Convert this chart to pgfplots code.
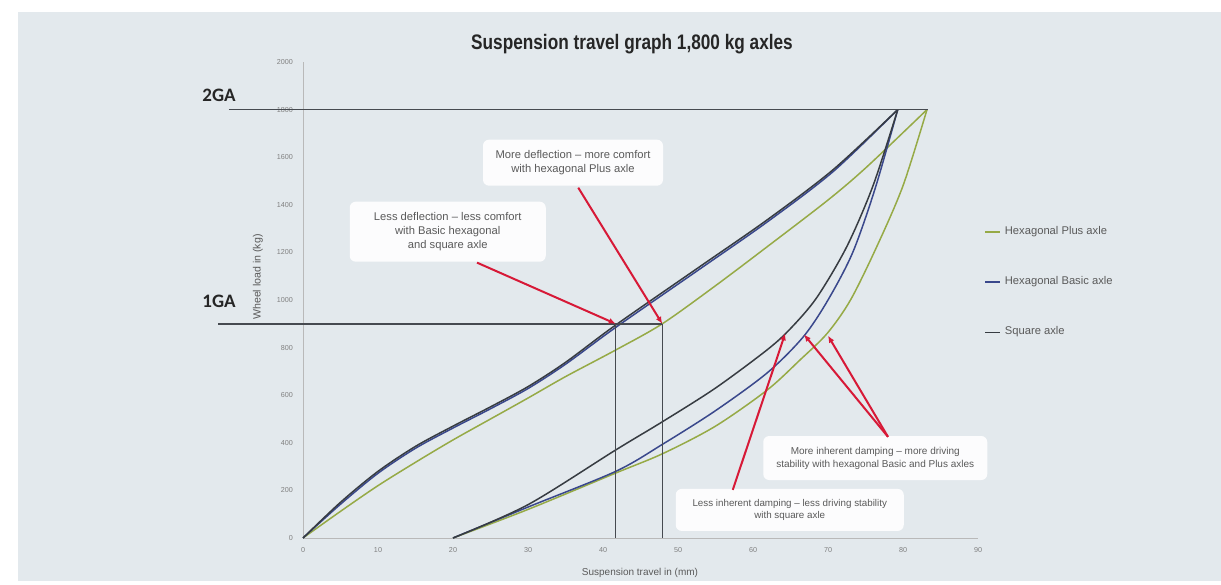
\documentclass[border=0pt]{standalone}
\usepackage{fontspec}
\setmainfont{Liberation Sans}
\newfontfamily\titlefont[FakeStretch=0.82]{Liberation Sans}
\newfontfamily\gafont{Carlito}
\usepackage{pgfplots}
\pgfplotsset{compat=1.18}
\usetikzlibrary{arrows.meta}
\definecolor{bgc}{RGB}{227,233,237}
\definecolor{sqc}{RGB}{55,60,66}
\definecolor{basc}{RGB}{58,72,140}
\definecolor{plc}{RGB}{150,170,70}
\definecolor{refc}{RGB}{70,74,80}
\definecolor{redc}{RGB}{215,25,55}
\definecolor{txtc}{RGB}{90,90,90}
\begin{document}
\begin{tikzpicture}
\fill[white] (0,0) rectangle (610.5pt,290.5pt);
\fill[bgc] (9pt,0) rectangle (610.5pt,284.5pt);
\begin{axis}[at={(151.5pt,21.5pt)}, anchor=south west, scale only axis,
  width=337.5pt, height=238pt,
  xmin=0, xmax=90, ymin=0, ymax=2000, clip=false,
  axis x line*=bottom, axis y line*=left,
  axis line style={-,gray!55,line width=0.4pt},
  xtick={0,10,...,90}, ytick={0,200,...,2000},
  major tick length=0pt,
  tick label style={font=\fontsize{3.6}{4.2}\selectfont, text=gray},
  /pgf/number format/assume math mode=true,
  /pgf/number format/1000 sep={},
  xticklabel style={yshift=-1pt}, yticklabel style={xshift=-1.5pt},
  legend style={at={(1.0,0.672)}, anchor=north west, draw=none, fill=none,
    font=\fontsize{5.6}{6}\selectfont, text=txtc, row sep=15.5pt},
  legend cell align=left,
  legend image code/.code={\draw[#1] (0pt,0pt) -- (7.5pt,0pt);},
  every axis plot/.append style={line width=0.75pt, smooth, tension=0.5}]

% upper (loading) curves
\addplot[plc] coordinates {(0,0) (5,112) (10,220) (15,318) (20,412) (25,500) (30,588) (35,678) (41.7,790) (47.9,900) (55,1060) (61.9,1224) (70,1420) (75.2,1560) (83.2,1800)};
\addlegendentry{Hexagonal Plus axle}
\addplot[basc] coordinates {(0,0) (5,142) (10,272) (15,377) (20,462) (25,543) (30,628) (35,730) (41.7,885) (52.9,1130) (61.9,1328) (70.7,1540) (79.3,1800)};
\addlegendentry{Hexagonal Basic axle}
\addplot[sqc] coordinates {(0,0) (5,150) (10,280) (15,385) (20,470) (25,551) (30,636) (35,738) (41.7,895) (52.9,1140) (61.9,1337) (70.7,1548) (79.3,1800)};
\addlegendentry{Square axle}

% lower (unloading) curves
\addplot[plc, forget plot] coordinates {(20,0) (30,120) (41.7,273) (48,355) (55,470) (61.9,622) (66.3,749) (69.9,860) (73,1000) (76.5,1224) (80,1480) (83.2,1800)};
\addplot[basc, forget plot] coordinates {(20,0) (30,130) (41.7,280) (48,395) (55,535) (61.9,694) (66.7,845) (70,1000) (73.3,1200) (76.3,1470) (79.3,1800)};
\addplot[sqc, forget plot] coordinates {(20,0) (30,140) (41.7,370) (48,490) (55,630) (61.9,791) (65,880) (68.5,1010) (72.5,1224) (76,1480) (79.3,1800)};

% reference lines 2GA / 1GA
\addplot[refc, line width=0.8pt, forget plot] coordinates {(-9.9,1800) (83.2,1800)};
\addplot[refc, line width=0.8pt, forget plot] coordinates {(-11.3,900) (47.9,900)};
\addplot[refc, line width=0.6pt, forget plot] coordinates {(41.7,900) (41.7,0)};
\addplot[refc, line width=0.6pt, forget plot] coordinates {(47.9,900) (47.9,0)};

% callouts
\tikzset{callout/.style={fill=white, fill opacity=0.9, text opacity=1, rounded corners=3pt, align=center, text=txtc},
  redarr/.style={redc, line width=1pt, -{Latex[length=3.5pt,width=3pt]}}}
\node[callout, font=\fontsize{5.6}{7}\selectfont, minimum width=90pt, minimum height=23pt] at (axis cs:36,1577) {More deflection -- more comfort\\with hexagonal Plus axle};
\node[callout, font=\fontsize{5.6}{7}\selectfont, minimum width=98pt, minimum height=30pt] at (axis cs:19.3,1287) {Less deflection -- less comfort\\with Basic hexagonal\\and square axle};
\node[callout, font=\fontsize{5}{6.6}\selectfont, minimum width=112pt, minimum height=22pt] at (axis cs:76.3,336) {More inherent damping -- more driving\\stability with hexagonal Basic and Plus axles};
\node[callout, font=\fontsize{4.9}{6.4}\selectfont, minimum width=114pt, minimum height=21pt] at (axis cs:64.9,118) {Less inherent damping -- less driving stability\\with square axle};

\draw[redarr] (axis cs:36.7,1472) -- (axis cs:47.9,900);
\draw[redarr] (axis cs:23.2,1157) -- (axis cs:41.7,900);
\draw[redarr] (axis cs:57.3,202) -- (axis cs:64.3,860);
\draw[redarr] (axis cs:78,425) -- (axis cs:66.8,855);
\draw[redarr] (axis cs:78,425) -- (axis cs:70,850);
\end{axis}

% titles and labels
\node[font=\titlefont\bfseries\fontsize{10.5}{12}\selectfont, text=black!85] at (316pt,268.5pt) {Suspension travel graph 1,800 kg axles};
\node[font=\gafont\bfseries\fontsize{9.5}{11}\selectfont, text=black!85] at (109.5pt,243pt) {2GA};
\node[font=\gafont\bfseries\fontsize{9.5}{11}\selectfont, text=black!85] at (109.5pt,140pt) {1GA};
\node[rotate=90, font=\fontsize{5.3}{6}\selectfont, text=txtc] at (129pt,152pt) {Wheel load in (kg)};
\node[font=\fontsize{5}{6}\selectfont, text=txtc] at (320pt,4pt) {Suspension travel in (mm)};
\end{tikzpicture}
\end{document}
